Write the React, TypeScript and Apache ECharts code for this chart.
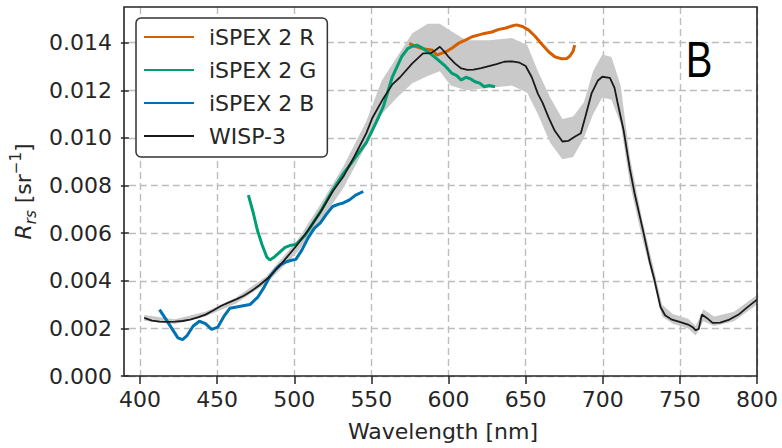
import React, { useEffect, useRef } from "react";
import * as echarts from "echarts";

// WISP-3 reference spectrum
const wispWl = [400,405,410,415,420,425,430,435,440,445,450,455,460,465,470,475,482,490,499,507,515,523,530,537,545,549,556,562,567,575,582,587,590,593,596,599,603,607,611,615,620,625,630,635,640,645,649,653,657,660,664,668,673,677,681,685,688,692,696,699,704,707,709,713,717,720,726,730,733,737,740,744,750,755,758,760,762,764,767,771,776,782,788,793,800];
const wispRrs = [0.00244,0.00233,0.00228,0.00227,0.00228,0.00231,0.00237,0.00246,0.00258,0.00275,0.00294,0.00308,0.00322,0.00337,0.00357,0.0038,0.00418,0.00475,0.00544,0.00612,0.00688,0.00775,0.00838,0.0092,0.0102,0.01085,0.01165,0.01225,0.01255,0.01313,0.01355,0.01356,0.01368,0.01383,0.01362,0.01338,0.01312,0.01292,0.01286,0.01287,0.01293,0.01302,0.0131,0.0132,0.01322,0.01316,0.01302,0.01255,0.01185,0.01148,0.01085,0.0103,0.00985,0.00988,0.01005,0.0102,0.0109,0.01187,0.0124,0.01257,0.01252,0.0121,0.01148,0.0103,0.0087,0.0077,0.006,0.0048,0.00405,0.0029,0.00255,0.00238,0.00226,0.00216,0.00205,0.00192,0.00198,0.00258,0.00245,0.00223,0.00224,0.00237,0.00258,0.00285,0.00321];

// WISP-3 uncertainty band
const bandWl = [400,420,440,460,480,500,515,530,545,555,565,575,585,593,600,610,625,640,650,657,665,673,680,687,693,699,705,711,717,725,733,738,745,755,760,765,772,785,800];
const bandLow = [0.00232,0.00218,0.0025,0.00305,0.0039,0.0052,0.0065,0.0079,0.0097,0.011,0.0117,0.0123,0.0126,0.0128,0.0122,0.012,0.0121,0.0122,0.0119,0.011,0.0098,0.0091,0.0092,0.01,0.011,0.0117,0.0116,0.0106,0.0081,0.0058,0.0038,0.0025,0.0022,0.002,0.0017,0.0023,0.0021,0.0023,0.003];
const bandHigh = [0.00256,0.00238,0.0027,0.0033,0.0042,0.0057,0.0072,0.0088,0.0107,0.0124,0.0134,0.0144,0.0148,0.0148,0.0145,0.0141,0.0141,0.0142,0.0139,0.0128,0.0117,0.0108,0.0109,0.0115,0.0128,0.0135,0.0134,0.0122,0.0092,0.0066,0.0044,0.003,0.0026,0.0024,0.0021,0.0028,0.0025,0.0027,0.0034];

// iSPEX 2 R
const rWl = [573,577,581,585,588,591,594,597,601,605,610,614,618,622,627,631,636,640,643,647,651,655,659,664,668,672,676,678,680,681];
const rRrs = [0.01397,0.01385,0.01376,0.01372,0.01369,0.01348,0.01355,0.01362,0.01378,0.01397,0.01412,0.01425,0.01432,0.01439,0.01445,0.01455,0.01462,0.0147,0.01475,0.01468,0.01453,0.01428,0.01398,0.01362,0.01341,0.01333,0.01334,0.01345,0.01365,0.0139];

// iSPEX 2 G
const gWl = [468,471,474,477,480,482,485,489,492,495,499,505,510,516,523,530,537,545,551,556,562,568,572,575,578,581,585,588,592,596,601,604,607,610,613,616,619,622,625,629];
const gRrs = [0.0076,0.0069,0.0061,0.0055,0.005,0.00487,0.005,0.00523,0.0054,0.00548,0.00552,0.0059,0.0064,0.007,0.0078,0.0085,0.0091,0.0098,0.0106,0.0113,0.01257,0.01341,0.01375,0.01385,0.0139,0.0138,0.01362,0.01348,0.01327,0.01305,0.01271,0.01262,0.01243,0.01255,0.01248,0.01236,0.0123,0.01215,0.0122,0.01215];

// iSPEX 2 B
const bWl = [410,414,418,422,425,428,432,436,440,444,448,452,456,462,469,474,478,482,486,489,493,496,499,503,507,511,515,519,523,527,530,534,538,543];
const bRrs = [0.00279,0.0024,0.002,0.0016,0.00153,0.0017,0.0021,0.0023,0.0022,0.00196,0.00205,0.0025,0.00285,0.00292,0.003,0.0033,0.0037,0.00418,0.0045,0.00468,0.0048,0.00486,0.0049,0.0053,0.0058,0.0062,0.00643,0.0068,0.00712,0.00722,0.00727,0.0074,0.0076,0.00775];

const xTicks = [400, 450, 500, 550, 600, 650, 700, 750, 800];
const yTicks = [0, 0.002, 0.004, 0.006, 0.008, 0.01, 0.012, 0.014];

const seriesNames = ["iSPEX 2 R", "iSPEX 2 G", "iSPEX 2 B", "WISP-3"];
const colors = ["#D55E00", "#009E73", "#0072B2", "#1a1a1a"];

const pairs = (xs: number[], ys: number[]) => xs.map((x, i) => [x, ys[i]]);

const FONT = "DejaVu Sans";
const TXT = "#262626";

export default function App() {
  const ref = useRef<HTMLDivElement>(null);
  useEffect(() => {
    document.body.style.margin = "0";
    const chart = echarts.init(ref.current!, null, { renderer: "svg" });
    const gridLine = { type: [7, 4] as any, color: "#bdbdbd", width: 1.4 };
    const option: any = {
      animation: false,
      grid: [
        { left: 124, right: 25, top: 7, bottom: 72 },
        { left: 140, right: 25, top: 7, bottom: 72 },
      ],
      xAxis: [
        {
          gridIndex: 0, type: "value", min: 390, max: 800,
          axisLine: { show: false }, axisTick: { show: false },
          axisLabel: { show: false }, splitLine: { show: false },
          name: "Wavelength [nm]", nameLocation: "middle", nameGap: 44,
          nameTextStyle: { fontSize: 22, color: TXT, fontFamily: FONT },
        },
        {
          gridIndex: 1, type: "value", min: xTicks[0], max: xTicks[xTicks.length - 1], interval: 50,
          axisLine: { show: false },
          axisTick: { show: true, length: 8, lineStyle: { color: TXT, width: 1.5 } },
          axisLabel: { fontSize: 22, margin: 12, color: TXT, fontFamily: FONT },
          splitLine: { show: true, lineStyle: gridLine },
        },
      ],
      yAxis: [
        {
          gridIndex: 0, type: "value", min: 0, max: 0.0155, interval: 0.002,
          axisLine: { show: false },
          axisTick: { show: true, length: 8, lineStyle: { color: TXT, width: 1.5 }, customValues: yTicks },
          axisLabel: {
            fontSize: 22, margin: 17, color: TXT, fontFamily: FONT,
            customValues: yTicks,
            formatter: (v: number) => v.toFixed(3),
          },
          splitLine: { show: true, lineStyle: gridLine },
          name: "{it|R}{sub|rs} [sr{sup|−1}]",
          nameLocation: "middle", nameGap: 86, nameRotate: 90,
          nameTextStyle: {
            fontSize: 22, color: TXT, fontFamily: FONT, lineHeight: 30,
            rich: {
              it: { fontStyle: "italic", fontSize: 22, lineHeight: 30, color: TXT, fontFamily: FONT },
              sub: { fontStyle: "italic", fontSize: 15, lineHeight: 15, verticalAlign: "bottom", color: TXT, fontFamily: FONT },
              sup: { fontSize: 15, lineHeight: 15, verticalAlign: "top", color: TXT, fontFamily: FONT },
            },
          },
        },
        { gridIndex: 1, type: "value", min: 0, max: 0.0155, show: false },
      ],
      legend: {
        data: seriesNames,
        orient: "vertical",
        left: 136, top: 18,
        itemWidth: 50, itemHeight: 14, itemGap: 11,
        padding: [8, 11, 10, 7],
        borderColor: "#333", borderWidth: 1.5, borderRadius: 5,
        backgroundColor: "#ffffff",
        itemStyle: { opacity: 0 },
        textStyle: { fontSize: 22, color: TXT, fontFamily: FONT, lineHeight: 22, padding: [0, 0, 0, 10] },
      },
      graphic: [
        {
          type: "rect", silent: true, z: 10,
          shape: { x: 124, y: 7, width: 633, height: 369 },
          style: { fill: "none", stroke: TXT, lineWidth: 1.6 },
        },
        {
          type: "text", x: 699, y: 60, scaleX: 0.8, z: 10,
          style: { text: "B", fontSize: 50, fontFamily: "Liberation Sans", fill: "#000", textAlign: "center", textVerticalAlign: "middle" },
        },
      ],
      series: [
        {
          type: "custom", name: "band", xAxisIndex: 0, yAxisIndex: 0, silent: true,
          data: bandWl.map((w, i) => [w, bandLow[i], bandHigh[i]]),
          encode: { x: 0, y: [1, 2] },
          renderItem: (params: any, api: any) => {
            if (params.dataIndex !== 0) return null;
            const upper = bandWl.map((w, i) => api.coord([w, bandHigh[i]]));
            const lower = bandWl.map((w, i) => api.coord([w, bandLow[i]])).reverse();
            return { type: "polygon", shape: { points: upper.concat(lower) }, style: { fill: "#c9c9c9" } };
          },
          z: 1,
        },
        {
          type: "line", name: seriesNames[0], data: pairs(rWl, rRrs), symbol: "none",
          lineStyle: { color: colors[0], width: 3 }, itemStyle: { color: colors[0] }, z: 3,
        },
        {
          type: "line", name: seriesNames[1], data: pairs(gWl, gRrs), symbol: "none",
          lineStyle: { color: colors[1], width: 3 }, itemStyle: { color: colors[1] }, z: 3,
        },
        {
          type: "line", name: seriesNames[2], data: pairs(bWl, bRrs), symbol: "none",
          lineStyle: { color: colors[2], width: 3 }, itemStyle: { color: colors[2] }, z: 3,
        },
        {
          type: "line", name: seriesNames[3], data: pairs(wispWl, wispRrs), symbol: "none",
          lineStyle: { color: colors[3], width: 1.8 }, itemStyle: { color: colors[3] }, z: 4,
        },
      ],
    };
    chart.setOption(option);
    return () => chart.dispose();
  }, []);
  return <div ref={ref} style={{ width: 782, height: 448 }} />;
}
